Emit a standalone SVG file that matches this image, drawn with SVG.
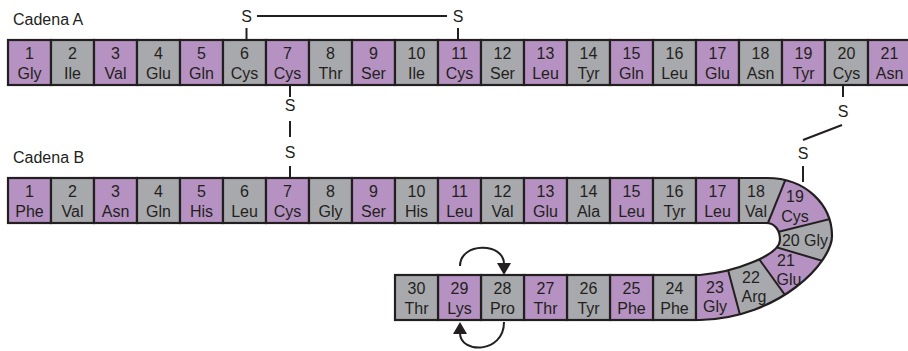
<svg xmlns="http://www.w3.org/2000/svg" width="908" height="351" viewBox="0 0 908 351">
  <style>
    .p{fill:#b592c1}
    .g{fill:#a7a9ac}
    .bx{stroke:#231f20;stroke-width:2.2}
    text{font-family:"Liberation Sans",Arial,sans-serif;font-size:16px;fill:#231f20}
    .t{text-anchor:middle}
    .ln{stroke:#231f20;stroke-width:2;fill:none}
  </style>
  <defs>
    <marker id="ah" viewBox="0 0 12 14" refX="1" refY="7" markerWidth="12" markerHeight="14" markerUnits="userSpaceOnUse" orient="auto">
      <path d="M0,0 L12,7 L0,14 Z" fill="#231f20"/>
    </marker>
    <!-- U-turn band holding residues B18..B23 -->
    <path id="bandShape" d="M739,178 L767,178 C806,178 832,205 832,236 C832,262 780,318 700,320 L696,320 L696,275 L700,275 C735,272 780,255 780,240 C780,230 775,223 766,223 L739,223 Z"/>
    <clipPath id="bandClip"><use href="#bandShape"/></clipPath>
  </defs>

  <rect width="908" height="351" fill="#ffffff"/>

  <text x="13" y="25">Cadena A</text>
  <text x="13" y="163">Cadena B</text>

  <!-- Chain A -->
  <g id="chainA">
    <g id="a1"><rect class="p bx" x="8" y="40" width="43" height="45"/><text class="t" x="29.5" y="58.5">1</text><text class="t" x="29.5" y="78.5">Gly</text></g>
    <g id="a2"><rect class="g bx" x="51" y="40" width="43" height="45"/><text class="t" x="72.5" y="58.5">2</text><text class="t" x="72.5" y="78.5">Ile</text></g>
    <g id="a3"><rect class="p bx" x="94" y="40" width="43" height="45"/><text class="t" x="115.5" y="58.5">3</text><text class="t" x="115.5" y="78.5">Val</text></g>
    <g id="a4"><rect class="g bx" x="137" y="40" width="43" height="45"/><text class="t" x="158.5" y="58.5">4</text><text class="t" x="158.5" y="78.5">Glu</text></g>
    <g id="a5"><rect class="p bx" x="180" y="40" width="43" height="45"/><text class="t" x="201.5" y="58.5">5</text><text class="t" x="201.5" y="78.5">Gln</text></g>
    <g id="a6"><rect class="g bx" x="223" y="40" width="43" height="45"/><text class="t" x="244.5" y="58.5">6</text><text class="t" x="244.5" y="78.5">Cys</text></g>
    <g id="a7"><rect class="p bx" x="266" y="40" width="43" height="45"/><text class="t" x="287.5" y="58.5">7</text><text class="t" x="287.5" y="78.5">Cys</text></g>
    <g id="a8"><rect class="g bx" x="309" y="40" width="43" height="45"/><text class="t" x="330.5" y="58.5">8</text><text class="t" x="330.5" y="78.5">Thr</text></g>
    <g id="a9"><rect class="p bx" x="352" y="40" width="43" height="45"/><text class="t" x="373.5" y="58.5">9</text><text class="t" x="373.5" y="78.5">Ser</text></g>
    <g id="a10"><rect class="g bx" x="395" y="40" width="43" height="45"/><text class="t" x="416.5" y="58.5">10</text><text class="t" x="416.5" y="78.5">Ile</text></g>
    <g id="a11"><rect class="p bx" x="438" y="40" width="43" height="45"/><text class="t" x="459.5" y="58.5">11</text><text class="t" x="459.5" y="78.5">Cys</text></g>
    <g id="a12"><rect class="g bx" x="481" y="40" width="43" height="45"/><text class="t" x="502.5" y="58.5">12</text><text class="t" x="502.5" y="78.5">Ser</text></g>
    <g id="a13"><rect class="p bx" x="524" y="40" width="43" height="45"/><text class="t" x="545.5" y="58.5">13</text><text class="t" x="545.5" y="78.5">Leu</text></g>
    <g id="a14"><rect class="g bx" x="567" y="40" width="43" height="45"/><text class="t" x="588.5" y="58.5">14</text><text class="t" x="588.5" y="78.5">Tyr</text></g>
    <g id="a15"><rect class="p bx" x="610" y="40" width="43" height="45"/><text class="t" x="631.5" y="58.5">15</text><text class="t" x="631.5" y="78.5">Gln</text></g>
    <g id="a16"><rect class="g bx" x="653" y="40" width="43" height="45"/><text class="t" x="674.5" y="58.5">16</text><text class="t" x="674.5" y="78.5">Leu</text></g>
    <g id="a17"><rect class="p bx" x="696" y="40" width="43" height="45"/><text class="t" x="717.5" y="58.5">17</text><text class="t" x="717.5" y="78.5">Glu</text></g>
    <g id="a18"><rect class="g bx" x="739" y="40" width="43" height="45"/><text class="t" x="760.5" y="58.5">18</text><text class="t" x="760.5" y="78.5">Asn</text></g>
    <g id="a19"><rect class="p bx" x="782" y="40" width="43" height="45"/><text class="t" x="803.5" y="58.5">19</text><text class="t" x="803.5" y="78.5">Tyr</text></g>
    <g id="a20"><rect class="g bx" x="825" y="40" width="43" height="45"/><text class="t" x="846.5" y="58.5">20</text><text class="t" x="846.5" y="78.5">Cys</text></g>
    <g id="a21"><rect class="p bx" x="868" y="40" width="43" height="45"/><text class="t" x="889.5" y="58.5">21</text><text class="t" x="889.5" y="78.5">Asn</text></g>
  </g>

  <!-- Chain B, straight part -->
  <g id="chainB">
    <g id="b1"><rect class="p bx" x="8" y="178" width="43" height="45"/><text class="t" x="29.5" y="196.5">1</text><text class="t" x="29.5" y="216.5">Phe</text></g>
    <g id="b2"><rect class="g bx" x="51" y="178" width="43" height="45"/><text class="t" x="72.5" y="196.5">2</text><text class="t" x="72.5" y="216.5">Val</text></g>
    <g id="b3"><rect class="p bx" x="94" y="178" width="43" height="45"/><text class="t" x="115.5" y="196.5">3</text><text class="t" x="115.5" y="216.5">Asn</text></g>
    <g id="b4"><rect class="g bx" x="137" y="178" width="43" height="45"/><text class="t" x="158.5" y="196.5">4</text><text class="t" x="158.5" y="216.5">Gln</text></g>
    <g id="b5"><rect class="p bx" x="180" y="178" width="43" height="45"/><text class="t" x="201.5" y="196.5">5</text><text class="t" x="201.5" y="216.5">His</text></g>
    <g id="b6"><rect class="g bx" x="223" y="178" width="43" height="45"/><text class="t" x="244.5" y="196.5">6</text><text class="t" x="244.5" y="216.5">Leu</text></g>
    <g id="b7"><rect class="p bx" x="266" y="178" width="43" height="45"/><text class="t" x="287.5" y="196.5">7</text><text class="t" x="287.5" y="216.5">Cys</text></g>
    <g id="b8"><rect class="g bx" x="309" y="178" width="43" height="45"/><text class="t" x="330.5" y="196.5">8</text><text class="t" x="330.5" y="216.5">Gly</text></g>
    <g id="b9"><rect class="p bx" x="352" y="178" width="43" height="45"/><text class="t" x="373.5" y="196.5">9</text><text class="t" x="373.5" y="216.5">Ser</text></g>
    <g id="b10"><rect class="g bx" x="395" y="178" width="43" height="45"/><text class="t" x="416.5" y="196.5">10</text><text class="t" x="416.5" y="216.5">His</text></g>
    <g id="b11"><rect class="p bx" x="438" y="178" width="43" height="45"/><text class="t" x="459.5" y="196.5">11</text><text class="t" x="459.5" y="216.5">Leu</text></g>
    <g id="b12"><rect class="g bx" x="481" y="178" width="43" height="45"/><text class="t" x="502.5" y="196.5">12</text><text class="t" x="502.5" y="216.5">Val</text></g>
    <g id="b13"><rect class="p bx" x="524" y="178" width="43" height="45"/><text class="t" x="545.5" y="196.5">13</text><text class="t" x="545.5" y="216.5">Glu</text></g>
    <g id="b14"><rect class="g bx" x="567" y="178" width="43" height="45"/><text class="t" x="588.5" y="196.5">14</text><text class="t" x="588.5" y="216.5">Ala</text></g>
    <g id="b15"><rect class="p bx" x="610" y="178" width="43" height="45"/><text class="t" x="631.5" y="196.5">15</text><text class="t" x="631.5" y="216.5">Leu</text></g>
    <g id="b16"><rect class="g bx" x="653" y="178" width="43" height="45"/><text class="t" x="674.5" y="196.5">16</text><text class="t" x="674.5" y="216.5">Tyr</text></g>
    <g id="b17"><rect class="p bx" x="696" y="178" width="43" height="45"/><text class="t" x="717.5" y="196.5">17</text><text class="t" x="717.5" y="216.5">Leu</text></g>

    <!-- bottom return row -->
    <g id="b24"><rect class="g bx" x="653" y="275" width="43" height="45"/><text class="t" x="674.5" y="293.5">24</text><text class="t" x="674.5" y="313.5">Phe</text></g>
    <g id="b25"><rect class="p bx" x="610" y="275" width="43" height="45"/><text class="t" x="631.5" y="293.5">25</text><text class="t" x="631.5" y="313.5">Phe</text></g>
    <g id="b26"><rect class="g bx" x="567" y="275" width="43" height="45"/><text class="t" x="588.5" y="293.5">26</text><text class="t" x="588.5" y="313.5">Tyr</text></g>
    <g id="b27"><rect class="p bx" x="524" y="275" width="43" height="45"/><text class="t" x="545.5" y="293.5">27</text><text class="t" x="545.5" y="313.5">Thr</text></g>
    <g id="b28"><rect class="g bx" x="481" y="275" width="43" height="45"/><text class="t" x="502.5" y="293.5">28</text><text class="t" x="502.5" y="313.5">Pro</text></g>
    <g id="b29"><rect class="p bx" x="438" y="275" width="43" height="45"/><text class="t" x="459.5" y="293.5">29</text><text class="t" x="459.5" y="313.5">Lys</text></g>
    <g id="b30"><rect class="g bx" x="395" y="275" width="43" height="45"/><text class="t" x="416.5" y="293.5">30</text><text class="t" x="416.5" y="313.5">Thr</text></g>
  </g>

  <!-- U-turn: B18 to B23 -->
  <g id="turn">
    <use href="#bandShape" class="g"/>
    <g clip-path="url(#bandClip)">
      <polygon id="b19fill" class="p" points="762.8,235.8 795,156 870,209"/>
      <polygon id="b21fill" class="p" points="743.5,237.5 867,274 811,331"/>
      <polygon id="b23fill" class="p" points="696,250 722.7,250 746.7,340 696,340"/>
      <g class="ln" stroke-width="2.2">
        <line x1="795" y1="156" x2="762.8" y2="235.8"/>
        <line x1="870" y1="209" x2="762.8" y2="235.8"/>
        <line x1="867" y1="274" x2="743.5" y2="237.5"/>
        <line x1="811" y1="331" x2="743.5" y2="237.5"/>
        <line x1="722.7" y1="250" x2="746.7" y2="340"/>
      </g>
    </g>
    <use href="#bandShape" fill="none" class="bx"/>
    <g id="b18"><text class="t" x="756" y="196.5">18</text><text class="t" x="756" y="216.5">Val</text></g>
    <g id="b19"><text class="t" x="795" y="202">19</text><text class="t" x="795" y="222">Cys</text></g>
    <g id="b20"><text class="t" x="805" y="246">20 Gly</text></g>
    <g id="b21"><text class="t" x="786" y="266">21</text><text class="t" x="789" y="285">Glu</text></g>
    <g id="b22"><text class="t" x="751" y="283">22</text><text class="t" x="754" y="302">Arg</text></g>
    <g id="b23"><text class="t" x="715" y="293">23</text><text class="t" x="715" y="312">Gly</text></g>
  </g>

  <!-- Disulfide bridges and turn arrows -->
  <g id="connectors">
    <g id="ssA6A11">
      <text class="t" x="246.5" y="21.5">S</text>
      <text class="t" x="458" y="21.5">S</text>
      <line class="ln" x1="257" y1="16" x2="447" y2="16"/>
      <line class="ln" x1="246.5" y1="28" x2="246.5" y2="40"/>
      <line class="ln" x1="458" y1="28" x2="458" y2="40"/>
    </g>
    <g id="ssA7B7">
      <line class="ln" x1="290" y1="85" x2="290" y2="97"/>
      <text class="t" x="290" y="111">S</text>
      <line class="ln" x1="290" y1="121" x2="290" y2="137"/>
      <text class="t" x="290" y="158">S</text>
      <line class="ln" x1="290" y1="166" x2="290" y2="178"/>
    </g>
    <g id="ssA20B19">
      <line class="ln" x1="843" y1="85" x2="843" y2="97"/>
      <text class="t" x="843" y="117">S</text>
      <line class="ln" x1="842" y1="125" x2="803" y2="140"/>
      <text class="t" x="803" y="159">S</text>
      <line class="ln" x1="803" y1="166" x2="803" y2="182"/>
    </g>
    <path class="ln" d="M460,266 C460,242 504,242 504,264" marker-end="url(#ah)"/>
    <path class="ln" d="M504,322 C504,354 460,354 460,333" marker-end="url(#ah)"/>
  </g>
</svg>
